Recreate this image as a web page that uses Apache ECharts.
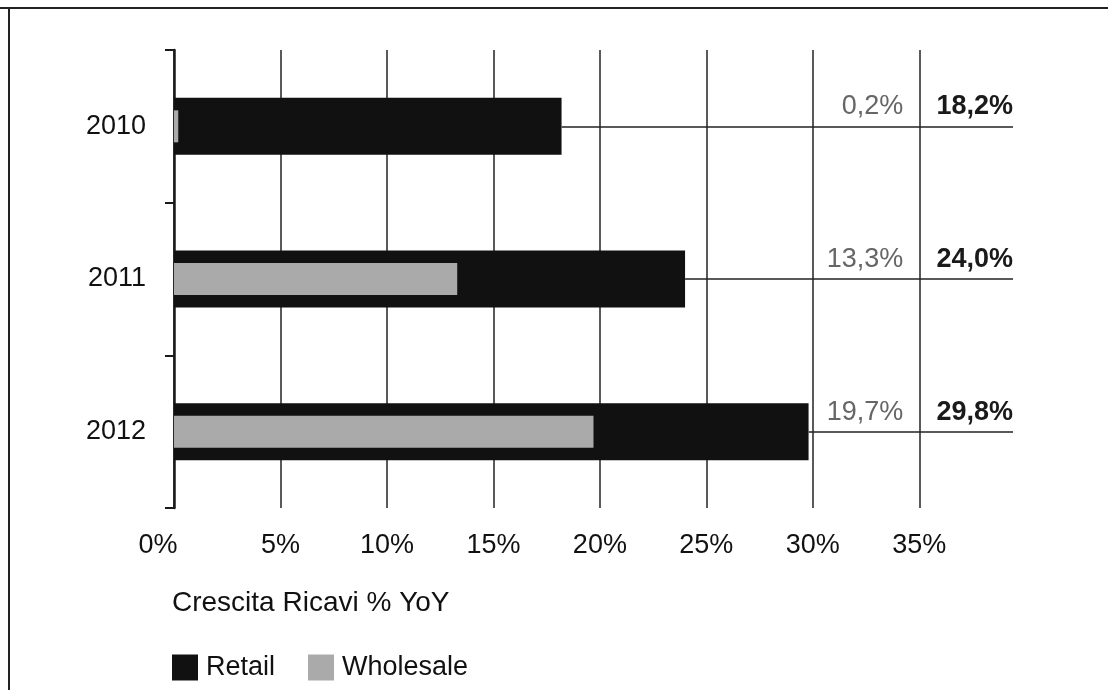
<!DOCTYPE html>
<html>
<head>
<meta charset="utf-8">
<script src="https://cdn.jsdelivr.net/npm/echarts@6/dist/echarts.min.js"></script>
<style>
html,body{margin:0;padding:0;background:#fff;}
#chart{width:1108px;height:690px;}
</style>
</head>
<body>
<div id="chart"></div>
<script>
const years = ['2010', '2011', '2012'];
const retail = [18.2, 24.0, 29.8];
const wholesale = [0.2, 13.3, 19.7];
const xTicks = [0, 5, 10, 15, 20, 25, 30, 35];
const seriesNames = ['Retail', 'Wholesale'];
const axisTitle = 'Crescita Ricavi % YoY';

const AXIS_MAX = 39.4;   // right end of leader lines
const GRID_LAST = 35;    // last gridline

const FONT = '"Liberation Sans", Arial, Helvetica, sans-serif';
const fmt = v => v.toFixed(1).replace('.', ',') + '%';

const chart = echarts.init(document.getElementById('chart'), null, {renderer: 'canvas'});

const retailLines = years.map((y, i) => [
  {coord: [retail[i], y], name: fmt(retail[i])},
  {coord: [AXIS_MAX, y], name: fmt(retail[i])}
]);
const wholesaleLines = years.map((y, i) => [
  {coord: [retail[i], y], name: fmt(wholesale[i])},
  {coord: [GRID_LAST, y], name: fmt(wholesale[i])}
]);

const catAxisBase = {
  type: 'category',
  data: years,
  inverse: true,
  boundaryGap: true
};

chart.setOption({
  animation: false,
  textStyle: {fontFamily: FONT},
  graphic: [
    {type: 'line', shape: {x1: 0, y1: 8, x2: 1108, y2: 8}, style: {stroke: '#222', lineWidth: 2}},
    {type: 'line', shape: {x1: 9, y1: 8, x2: 9, y2: 690}, style: {stroke: '#222', lineWidth: 2}}
  ],
  title: {
    text: axisTitle,
    left: 172,
    top: 589,
    padding: 0,
    textStyle: {fontFamily: FONT, fontSize: 28, fontWeight: 'normal', color: '#111'}
  },
  legend: {
    data: seriesNames,
    left: 172,
    top: 654,
    padding: 0,
    itemWidth: 26,
    itemHeight: 26,
    itemGap: 33,
    icon: 'rect',
    textStyle: {fontFamily: FONT, fontSize: 27, color: '#111', padding: [0, 0, 0, 3]}
  },
  grid: {left: 174, right: 95, top: 50, bottom: 182, containLabel: false},
  xAxis: {
    type: 'value',
    min: 0,
    max: AXIS_MAX,
    interval: 5,
    axisLine: {show: false},
    axisTick: {show: false},
    splitLine: {show: true, showMaxLine: false, lineStyle: {color: '#5a5a5a', width: 2}},
    axisLabel: {
      margin: 24,
      showMaxLabel: false,
      fontFamily: FONT,
      fontSize: 27,
      color: '#111',
      formatter: v => xTicks.indexOf(v) < 0 ? '' : (v === 0 ? '{z|0%}' : v + '%'),
      rich: {z: {fontFamily: FONT, fontSize: 27, color: '#111', padding: [0, 32, 0, 0]}}
    }
  },
  yAxis: [
    Object.assign({}, catAxisBase, {
      axisLine: {show: true, lineStyle: {color: '#1a1a1a', width: 2.5}},
      axisTick: {show: true, length: 9, inside: false, lineStyle: {color: '#1a1a1a', width: 2}},
      axisLabel: {margin: 28, fontFamily: FONT, fontSize: 27, color: '#111'},
      splitLine: {show: false}
    }),
    Object.assign({}, catAxisBase, {
      position: 'left',
      show: false
    })
  ],
  series: [
    {
      name: 'Retail',
      type: 'bar',
      yAxisIndex: 0,
      data: retail,
      barWidth: 57,
      itemStyle: {color: '#111'},
      z: 2,
      markLine: {
        silent: true,
        symbol: ['none', 'none'],
        lineStyle: {color: '#222', width: 1.5, type: 'solid'},
        label: {
          show: true,
          position: 'insideEndTop',
          formatter: '{b}',
          fontFamily: FONT,
          fontSize: 27,
          fontWeight: 'bold',
          color: '#1a1a1a',
          distance: [0, 6]
        },
        emphasis: {disabled: true},
        data: retailLines
      }
    },
    {
      name: 'Wholesale',
      type: 'bar',
      yAxisIndex: 1,
      data: wholesale,
      barWidth: 32,
      itemStyle: {color: '#aaaaaa'},
      z: 3,
      markLine: {
        silent: true,
        symbol: ['none', 'none'],
        lineStyle: {color: 'rgba(0,0,0,0)', width: 1, type: 'solid'},
        label: {
          show: true,
          position: 'insideEndTop',
          formatter: '{b}',
          fontFamily: FONT,
          fontSize: 27,
          color: '#666',
          distance: [0, 6],
          padding: [0, 16, 0, 0]
        },
        emphasis: {disabled: true},
        data: wholesaleLines
      }
    }
  ]
});
</script>
</body>
</html>
